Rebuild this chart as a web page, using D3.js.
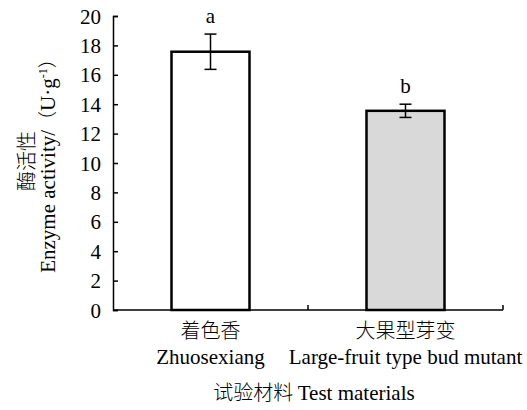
<!DOCTYPE html>
<html><head><meta charset="utf-8">
<script src="https://cdn.jsdelivr.net/npm/d3@7"></script>
<style>
body{margin:0;background:#fff;}
svg text{font-family:"Liberation Serif","Times New Roman",serif;fill:#000;}
svg .cjk{font-family:"Noto Sans CJK SC",sans-serif;font-weight:300;}
</style></head>
<body>
<svg id="chart" width="527" height="410"></svg>
<script>
const categoriesCN = ["着色香", "大果型芽变"];
const categoriesEN = ["Zhuosexiang", "Large-fruit type bud mutant"];
const means = [17.57, 13.55];
const errors = [1.2, 0.45];
const letters = ["a", "b"];
const fills = ["#ffffff", "#d9d9d9"];
const yTicks = [0, 2, 4, 6, 8, 10, 12, 14, 16, 18, 20];

const SERIF = "'Liberation Serif','Times New Roman',serif";
const svg = d3.select("#chart");
const m = {left: 113, right: 24, top: 16, bottom: 100};
const W = 527, H = 410;
const x = d3.scaleBand().domain(categoriesEN).range([m.left, W - m.right]).padding(0);
const y = d3.scaleLinear().domain([0, 20]).range([H - m.bottom, m.top]);
const barW = x.bandwidth() * 0.4;

// y axis
const yAxis = svg.append("g").attr("transform", `translate(${m.left},0)`)
  .call(d3.axisLeft(y).tickValues(yTicks).tickSize(-5).tickPadding(12));
yAxis.attr("font-family", null).attr("font-size", null);
yAxis.select(".domain").attr("stroke", "#000").attr("stroke-width", 1.5);
yAxis.selectAll(".tick line").attr("stroke", "#000").attr("stroke-width", 1.5);
yAxis.selectAll(".tick text").style("font-size", "21px").style("font-family", SERIF).attr("dy", "0.34em");

// x axis line + inner ticks at band boundaries
const xAxisG = svg.append("g").attr("transform", `translate(0,${y(0)})`);
xAxisG.append("line").attr("x1", m.left).attr("x2", W - m.right).attr("stroke", "#000").attr("stroke-width", 1.5);
const bounds = categoriesEN.map(c => x(c) + x.bandwidth());
xAxisG.selectAll("line.tk").data(bounds).enter().append("line").attr("class", "tk")
  .attr("x1", d => d).attr("x2", d => d).attr("y1", 0).attr("y2", -5)
  .attr("stroke", "#000").attr("stroke-width", 1.5);

// bars
const data = categoriesEN.map((c, i) => ({c, mean: means[i], err: errors[i], letter: letters[i], fill: fills[i], cn: categoriesCN[i]}));
svg.selectAll("rect.bar").data(data).enter().append("rect").attr("class", "bar")
  .attr("x", d => x(d.c) + (x.bandwidth() - barW) / 2)
  .attr("y", d => y(d.mean))
  .attr("width", barW)
  .attr("height", d => y(0) - y(d.mean))
  .attr("fill", d => d.fill).attr("stroke", "#000").attr("stroke-width", 2.5);

// error bars
const cx = d => x(d.c) + x.bandwidth() / 2;
const eb = svg.selectAll("g.eb").data(data).enter().append("g").attr("class", "eb")
  .attr("stroke", "#000").attr("stroke-width", 1.5);
eb.append("line").attr("x1", cx).attr("x2", cx).attr("y1", d => y(d.mean + d.err)).attr("y2", d => y(d.mean - d.err));
eb.append("line").attr("x1", d => cx(d) - 6).attr("x2", d => cx(d) + 6).attr("y1", d => y(d.mean + d.err)).attr("y2", d => y(d.mean + d.err));
eb.append("line").attr("x1", d => cx(d) - 6).attr("x2", d => cx(d) + 6).attr("y1", d => y(d.mean - d.err)).attr("y2", d => y(d.mean - d.err));

// significance letters
svg.selectAll("text.sig").data(data).enter().append("text").attr("class", "sig")
  .attr("x", cx).attr("y", d => y(d.mean + d.err) - 11)
  .attr("text-anchor", "middle").style("font-size", "21px").style("font-family", SERIF).text(d => d.letter);

// x category labels
svg.selectAll("text.cn").data(data).enter().append("text").attr("class", "cn cjk")
  .attr("x", cx).attr("y", 338).attr("text-anchor", "middle")
  .style("font-size", "20px").text(d => d.cn);
svg.selectAll("text.en").data(data).enter().append("text").attr("class", "en")
  .attr("x", cx).attr("y", 364).attr("text-anchor", "middle")
  .style("font-size", "21px").style("font-family", SERIF).text(d => d.c);

// x title
const xt = svg.append("text").attr("x", 314).attr("y", 400).attr("text-anchor", "middle")
  .style("font-size", "21px").style("font-family", SERIF);
xt.append("tspan").attr("class", "cjk").style("font-size", "20px").text("试验材料 ");
xt.append("tspan").text("Test materials");

// y title
const yt = svg.append("g").attr("transform", "translate(0,161) rotate(-90)");
yt.append("text").attr("class", "cjk").attr("x", 0).attr("y", 34).attr("text-anchor", "middle")
  .style("font-size", "20px").text("酶活性");
const yt2 = yt.append("text").attr("x", 0).attr("y", 55).attr("text-anchor", "middle")
  .style("font-size", "21px").style("font-family", SERIF);
yt2.append("tspan").text("Enzyme activity/");
yt2.append("tspan").attr("class", "cjk").style("font-size", "19px").text("（");
yt2.append("tspan").text("U·g");
yt2.append("tspan").attr("dy", -8).style("font-size", "12px").text("-1");
yt2.append("tspan").attr("dy", 8).attr("class", "cjk").style("font-size", "19px").text("）");
</script>
</body></html>
